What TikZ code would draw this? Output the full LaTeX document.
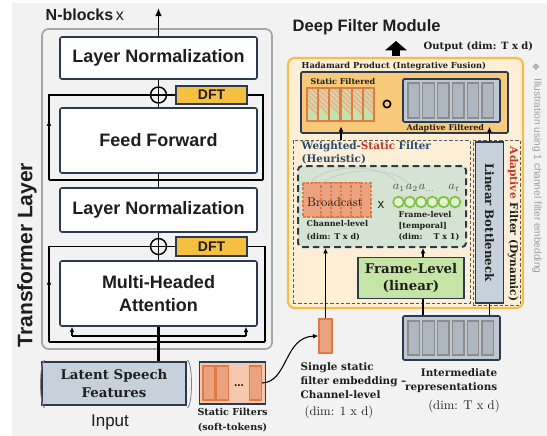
\documentclass[tikz,border=0pt]{standalone}
\usepackage{fontspec}
\usepackage{graphicx}
\newfontfamily\sanf{Liberation Sans}
\newfontfamily\slab{DejaVu Serif}
\newfontfamily\symf{DejaVu Sans}
\usetikzlibrary{arrows.meta,positioning,calc,decorations.markings}

\definecolor{bgfill}{HTML}{F2F2F2}
\definecolor{framegray}{HTML}{A6A6A6}
\definecolor{navy}{HTML}{2B3A4F}
\definecolor{ink}{HTML}{1E1E1E}
\definecolor{dftorange}{HTML}{F5BF42}
\definecolor{latentfill}{HTML}{C7D1DB}
\definecolor{sfboxfill}{HTML}{F6C9AE}
\definecolor{sbarfill}{HTML}{EBA27E}
\definecolor{sbarline}{HTML}{E07B45}
\definecolor{cream}{HTML}{FDEFD6}
\definecolor{gold}{HTML}{F7BE45}
\definecolor{hadfill}{HTML}{F8C979}
\definecolor{gboxfill}{HTML}{BFC8D0}
\definecolor{gbarfill}{HTML}{AEB7BF}
\definecolor{gbarline}{HTML}{8C8C8C}
\definecolor{sage}{HTML}{D5E4D2}
\definecolor{flgreen}{HTML}{C5E5A6}
\definecolor{circgreen}{HTML}{7DC142}
\definecolor{circfill}{HTML}{E3F1D6}
\definecolor{hatchgreen}{HTML}{C4E3AB}
\definecolor{hatchsalmon}{HTML}{F2AE8A}
\definecolor{wsfblue}{HTML}{2C4A70}
\definecolor{redc}{HTML}{C0392B}
\definecolor{illgray}{HTML}{9E9E9E}
\definecolor{dashgray}{HTML}{5A5A5A}

\tikzset{
  sz/.style 2 args={minimum width=#1*0.75pt, minimum height=#2*0.75pt, inner sep=0pt},
  sansf/.style 2 args={font=\sanf\bfseries\fontsize{#1}{#2}\selectfont},
  slabf/.style 2 args={font=\slab\bfseries\fontsize{#1}{#2}\selectfont},
  layer/.style={draw=navy, line width=1.2pt, fill=white, rounded corners=1.5pt, align=center, text=ink, sansf={13.5}{17}},
  dft/.style={draw=navy, line width=1pt, fill=dftorange, text=ink, sansf={10.5}{12}},
  addop/.style={circle, draw=black, line width=1.1pt, minimum size=12pt, inner sep=0pt,
    path picture={\draw[line width=1.1pt] (path picture bounding box.north) -- (path picture bounding box.south)
      (path picture bounding box.west) -- (path picture bounding box.east);}},
  wire/.style={line width=1.4pt, black},
  arr/.style={-{Latex[length=4pt,width=3.6pt]}},
  midarr/.style={postaction={decorate}, decoration={markings, mark=at position #1 with {\arrow{Latex[length=4pt,width=3.6pt]}}}},
  sbar/.style={draw=sbarline, line width=1pt, fill=sbarfill},
  gbox/.style={draw=navy, line width=1.2pt, fill=gboxfill, rounded corners=1pt},
  gbar/.style={draw=gbarline, line width=1pt, fill=gbarfill},
  dimtxt/.style={font=\fontsize{9.5}{11}\selectfont, text=ink},
  brk/.style={draw=gray, line width=0.6pt},
}

\begin{document}
\begin{tikzpicture}[x=0.75pt,y=-0.75pt]
\useasboundingbox (0,0) rectangle (547,436);
\fill[bgfill] (12,3) rectangle (547,436);

% transformer layer
\draw[framegray, line width=1.3pt, rounded corners=5pt] (42,29) rectangle (272,349);
\node[anchor=west, text=ink, sansf={12}{14}] (nblk) at (41,15) {N-blocks\,{\mdseries x}};
\node[rotate=90, text=ink, sansf={15.75}{18}] (tlay) at (27,255) {Transformer Layer};
\node[layer, sz={197}{42}] (ln1) at (158.5,58) {Layer Normalization};
\node[addop] (add1) at (158.5,95) {};
\node[dft, sz={71}{18}] (dft1) at (211.5,95) {DFT};
\node[layer, sz={197}{65}] (ff) at (158.5,140.5) {Feed Forward};
\node[layer, sz={197}{44}] (ln2) at (158.5,210) {Layer Normalization};
\node[addop] (add2) at (158.5,246.5) {};
\node[dft, sz={71}{19}] (dft2) at (211.5,246.5) {DFT};
\node[layer, sz={197}{65}] (mha) at (158.5,293.5) {Multi-Headed\\Attention};

\coordinate (top) at (158.5,8);
\coordinate (j1L) at (49,180);
\coordinate (j1R) at (263,180);
\coordinate (j2L) at (49,342);
\coordinate (j2R) at (265,342);
\coordinate (qL) at (72,336);
\coordinate (qR) at (246,336);

\draw[wire, -{Latex[length=6pt,width=5pt]}] (ln1.north) -- (top);
\draw[wire] (add1.north) -- (ln1.south);
\draw[wire] (ff.north) -- (add1.south);
\draw[wire] (dft1.west) -- (add1.east);
\draw[wire] (j1R) -- (j1L);
\draw[wire, midarr=0.32] (j1L) |- (add1.west);
\draw[wire] (j1R) |- (dft1.east);
\draw[wire] (ff.south) -- (ln2.north);

\draw[wire] (add2.north) -- (ln2.south);
\draw[wire] (mha.north) -- (add2.south);
\draw[wire] (dft2.west) -- (add2.east);
\draw[wire] (j2R) -- (j2L);
\draw[wire, midarr=0.32] (j2L) |- (add2.west);
\draw[wire] (j2R) |- (dft2.east);
\draw[wire] (qL) -- (qR);
\draw[wire, arr] (qL) -- (qL |- mha.south);
\draw[wire, arr] (qR) -- (qR |- mha.south);

% input
\node[draw=navy, line width=1.2pt, fill=latentfill, align=center, text=ink, slabf={10}{13.5}, sz={144}{43}] (lsf) at (114,383.5) {Latent Speech\\Features};
\draw[wire, line width=1.8pt] (mha.south |- lsf.north) -- (mha.south);
\draw[brk] (45,360) .. controls (39,361) and (39,407) .. (45,408);
\draw[brk] (187,360) .. controls (193,361) and (193,407) .. (187,408);
\node[text=ink, font=\sanf\fontsize{12.75}{14}\selectfont] (inp) at (110,422) {Input};

% static filters
\node[draw=navy, line width=1.2pt, fill=sfboxfill, sz={66}{42}] (sfs) at (232.5,383) {};
\node[sbar, sz={12}{34}] (sb1) at (209,383) {};
\node[sbar, sz={12}{34}] (sb2) at (222.5,383) {};
\node[sbar, sz={12}{34}] (sb3) at (255.5,383) {};
\node[text=ink, sansf={9}{10}] (dots) at (239,386) {...};
\node[align=center, text=ink, slabf={7.2}{11}] (sfl) at (232.5,420) {Static Filters\\(soft-tokens)};

\node[sbar, sz={13}{34}] (emb) at (325.5,336) {};
\draw[line width=0.8pt, arr] (sb3.east) .. controls (288,382) and (284,337) .. (emb.west);
\node[anchor=north west, align=left, text=ink, slabf={7.8}{10.5}] (embl) at (296,358) {Single static\\filter embedding –\\Channel-level};
\node[anchor=west, dimtxt] (embd) at (300,412) {(dim: 1 x d)};

% deep filter module
\node[anchor=west, text=ink, sansf={12.4}{14}] (dfmt) at (288,27) {Deep Filter Module};
\node[draw=gold, fill=cream, line width=1.6pt, rounded corners=5pt, sz={235}{250}] (dfm) at (405.5,183) {};
\coordinate (ob) at (396,56);
\draw[line width=5.5pt, -{Triangle[width=16pt,length=7pt]}] (ob) -- (396,41);
\node[anchor=west, text=ink, slabf={7.5}{9}] (outl) at (419,47) {Output (dim: T x d)};

\node[anchor=west, text=ink, slabf={6.2}{7}] (hadl) at (297,66) {Hadamard Product (Integrative Fusion)};
\node[draw=navy, line width=1.3pt, fill=hadfill, rounded corners=1pt, sz={207}{61}] (had) at (404.5,102.5) {};
\node[sz={68}{33}] (sf) at (341,104.5) {};
\foreach \i in {0,...,5} {
  \begin{scope}
    \clip ({307+\i*11.33},88) rectangle +(10.5,33);
    \fill[hatchgreen] ({307+\i*11.33},88) rectangle +(10.5,33);
    \foreach \k in {-4,...,4}
      \draw[hatchsalmon, line width=1.3pt] ({307+\i*11.33+\k*5},84) -- +(40,40);
  \end{scope}
  \draw[sbarline, line width=1pt] ({307+\i*11.33},88) rectangle +(10.5,33);
}
\node[anchor=west, text=ink, slabf={6}{7}] (sfdl) at (306,82) {Static Filtered};
\node[circle, draw=black, line width=1.2pt, minimum size=5.5pt, inner sep=0pt] (hp) at (387,104) {};
\node[gbox, sz={97}{43}] (af) at (451.5,100.5) {};
\foreach \i in {0,...,5}
  \node[gbar, sz={11.5}{35}] (afb\i) at ({413.75+\i*14.8},100.5) {};
\node[anchor=west, text=ink, slabf={6}{7}] (afl) at (402,128) {Adaptive Filtered};

% weighted static filter
\node[draw=dashgray, line width=0.6pt, dash pattern=on 2.5pt off 1.5pt, sz={177}{163}] (wsf) at (381.5,221.5) {};
\node[draw=dashgray, line width=0.6pt, dash pattern=on 2.5pt off 1.5pt, sz={47}{165}] (adf) at (496.5,222.5) {};
\node[anchor=west, align=left, text=wsfblue, slabf={7.8}{9.8}] (wsfl) at (297,152.5) {Weighted-\textcolor{redc}{Static} Filter\\(Heuristic)};
\node[draw=navy, fill=sage, line width=1.5pt, dash pattern=on 5pt off 3pt, rounded corners=3pt, sz={168}{81}] (inn) at (382,206.5) {};

\foreach \i in {5,...,0}
  \draw[sbarline, fill=sbarfill, line width=0.8pt, dash pattern=on 2pt off 1.2pt] ({303+\i*10},183) rectangle +(18,34);
\draw[gray!45, line width=0.5pt] (309,184) .. controls (325,163) and (385,162) .. (399,185);
\draw[gray!45, line width=0.5pt] (320,184) .. controls (342,167) and (396,166) .. (410,185);
\node[text=ink, font=\fontsize{9.5}{11}\selectfont] (bc) at (335,202) {Broadcast};
\node[text=ink, font=\sanf\fontsize{10}{12}\selectfont] (tms) at (381,205) {x};
\foreach \i in {0,...,5}
  \node[circle, draw=circgreen, fill=circfill, line width=1.3pt, minimum size=8pt, inner sep=0pt] (c\i) at ({398.5+\i*11.3},202) {};
\node[text=ink!80, font=\fontsize{9}{10}\selectfont] (a1) at (399,188) {$a_1$};
\node[text=ink!80, font=\fontsize{9}{10}\selectfont] (a2) at (412,188) {$a_2$};
\node[text=ink!80, font=\fontsize{9}{10}\selectfont] (an) at (427,188) {$a_{\dots}$};
\node[text=ink!80, font=\fontsize{9}{10}\selectfont] (at) at (454,188) {$a_t$};
\node[anchor=west, align=left, text=ink, slabf={6}{9.5}] (chl) at (302,230.5) {Channel-level\\(dim: T x d)};
\node[anchor=west, align=left, text=ink, slabf={6}{8.5}] (frl) at (394,226) {Frame-level\\{[temporal]}\\(dim:\ \ \ \ T x 1)};

\node[draw=navy, line width=1.3pt, fill=flgreen, align=center, text=ink, slabf={10}{12.75}, sz={106}{41}] (fl) at (411,278) {Frame-Level\\(linear)};
\node[draw=navy, line width=1.3pt, fill=latentfill, text=ink, slabf={8.8}{10}, sz={28}{161}] (lb) at (489.5,222.5) {\rotatebox{-90}{Linear Bottleneck}};
\node[text=ink, slabf={8}{9}] (adl) at (513,224) {\rotatebox{-90}{\textcolor{redc}{Adaptive} Filter (Dynamic)}};
\node[text=illgray, font=\sanf\fontsize{7.6}{9}\selectfont] (ill) at (537,176) {\rotatebox{-90}{Illustration using 1 channel filter embedding}};
\node[text=illgray, font=\symf\fontsize{7}{8}\selectfont] (orn) at (536,67) {❖};

% intermediate representations
\node[gbox, sz={97}{44}] (ir) at (451.5,338) {};
\foreach \i in {0,...,5}
  \node[gbar, sz={11.5}{34}] (irb\i) at ({413.75+\i*14.8},338) {};
\node[anchor=east, align=right, text=ink, slabf={7.8}{10.5}] (irl) at (502,381) {Intermediate\\representations};
\node[dimtxt] (ird) at (464,406) {(dim: T x d)};

% connectors
\coordinate (flx) at ($(fl.north)+(12,0)$);
\draw[line width=1.3pt, arr] (sf.south |- wsf.north) -- ($(sf.south)+(0,5)$);
\draw[line width=1.3pt, arr] (lb.north) -- ($(lb.north |- af.south)+(0,4)$);
\draw[line width=1.4pt, arr] (emb.north) -- (emb.north |- inn.south);
\draw[line width=1.4pt, arr] (flx) -- (flx |- inn.south);
\draw[line width=1.4pt] (flx |- ir.north) -- (flx |- fl.south);
\draw[line width=1.4pt] (lb.south |- ir.north) -- (lb.south);
\end{tikzpicture}
\end{document}
